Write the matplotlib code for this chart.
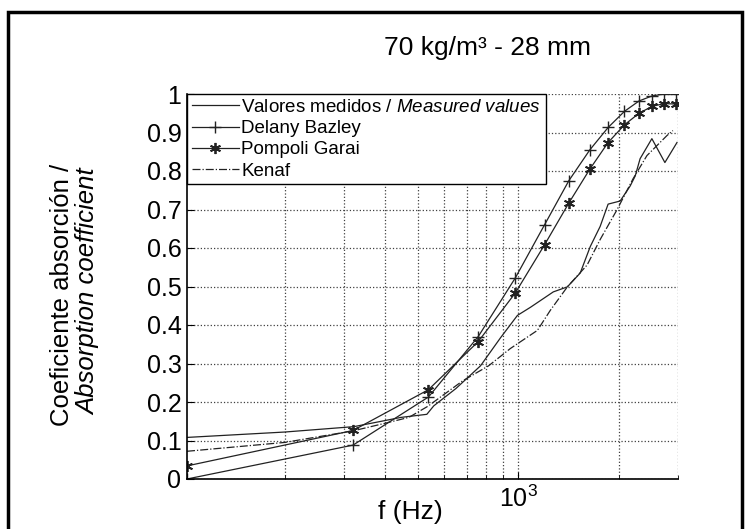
import numpy as np
import matplotlib
matplotlib.use("Agg")
import matplotlib.pyplot as plt
from matplotlib.patches import Rectangle

plt.rcParams['font.family'] = ['Liberation Sans', 'DejaVu Sans']
plt.rcParams['mathtext.fontset'] = 'custom'
plt.rcParams['mathtext.rm'] = 'Liberation Sans'
plt.rcParams['mathtext.it'] = 'Liberation Sans:italic'

# frequencies (Hz) and absorption coefficients
f_meas = [102, 200, 322, 400, 445, 532, 558, 650, 770, 884, 993, 1086, 1271,
          1400, 1530, 1640, 1755, 1854, 2014, 2158, 2234, 2311, 2506, 2741, 2979]
a_meas = [0.108, 0.122, 0.136, 0.152, 0.160, 0.168, 0.190, 0.235, 0.294, 0.367,
          0.425, 0.446, 0.486, 0.499, 0.535, 0.604, 0.656, 0.714, 0.722, 0.761,
          0.787, 0.832, 0.884, 0.822, 0.874]

f_model = [102, 320, 538, 758, 978, 1198, 1415, 1635, 1854, 2075, 2295, 2510, 2730, 2950]
a_delany = [0.0, 0.088, 0.213, 0.370, 0.522, 0.661, 0.775, 0.855, 0.913, 0.955,
            0.982, 0.995, 1.0, 1.0]
a_pompoli = [0.034, 0.126, 0.232, 0.357, 0.483, 0.609, 0.717, 0.805, 0.874, 0.920,
             0.950, 0.968, 0.975, 0.974]

f_kenaf = [102, 200, 320, 400, 470, 536, 681, 814, 946, 1139, 1245, 1400, 1605,
           1755, 1973, 2202, 2422, 2780, 2897]
a_kenaf = [0.072, 0.095, 0.125, 0.145, 0.160, 0.189, 0.255, 0.294, 0.339, 0.386,
           0.438, 0.499, 0.556, 0.622, 0.700, 0.780, 0.840, 0.892, 0.905]

labels = ["Valores medidos / $\\it{Measured\\ values}$", "Delany Bazley",
          "Pompoli Garai", "Kenaf"]

fig = plt.figure(figsize=(7.45, 5.29), dpi=100)
ax = fig.add_axes([187/745, 1-479/529, (678-187)/745, (479-94)/529])

lc = '#222222'
ax.plot(f_meas, a_meas, '-', color=lc, lw=0.9, label=labels[0])
ax.plot(f_model, a_delany, '-', color=lc, lw=0.9, marker='+', ms=9, mew=1.0, label=labels[1])
ax.plot(f_model, a_pompoli, '-', color=lc, lw=0.9, marker=(6, 2, 0), ms=8, mew=1.3, label=labels[2])
ax.plot(f_kenaf, a_kenaf, '-.', color=lc, lw=0.9, label=labels[3])

ax.set_xscale('log')
ax.set_xlim(102, 3000)
ax.set_ylim(0, 1)
ax.set_yticks(np.arange(0, 1.01, 0.1))
ax.set_yticklabels(['0', '0.1', '0.2', '0.3', '0.4', '0.5', '0.6', '0.7', '0.8', '0.9', '1'])
ax.set_xticks([1000])
ax.set_xticklabels([r'$\mathregular{10^3}$'])
ax.set_xticks([200, 300, 400, 500, 600, 700, 800, 900, 2000, 3000], minor=True)
ax.xaxis.set_minor_formatter(matplotlib.ticker.NullFormatter())
ax.tick_params(direction='in', labelsize=18, length=5, width=0.8)
ax.tick_params(which='minor', direction='in', length=3, width=0.6)
ax.tick_params(axis='x', pad=5)
ax.tick_params(axis='y', pad=4)

ax.grid(True, which='both', axis='x', ls=':', color='0.25', lw=0.9)
ax.grid(True, which='major', axis='y', ls=':', color='0.25', lw=0.9)
ax.spines['top'].set_visible(False)
ax.spines['right'].set_visible(False)
ax.spines['left'].set_linewidth(1.2)
ax.spines['bottom'].set_linewidth(1.2)

leg = ax.legend(loc='upper left', bbox_to_anchor=(0, 1), borderaxespad=0, fontsize=13.5,
                fancybox=False, framealpha=1, edgecolor='black', handlelength=2.5,
                handletextpad=0.15, labelspacing=0.22, borderpad=0.25)
leg.get_frame().set_linewidth(1.0)
leg.set_zorder(5)

fig.text(488/745, 1-48/529, "70 kg/m³ - 28 mm", ha='center', va='center', fontsize=19)
fig.text(410/745, 1-512/529, "f (Hz)", ha='center', va='center', fontsize=19)
fig.text(62/745, 1-295/529, "Coeficiente absorción /", rotation=90, ha='center',
         va='center', fontsize=18.5)
fig.text(88/745, 1-292/529, "Absorption coefficient", rotation=90, ha='center',
         va='center', fontsize=18.5, style='italic')

fig.patches.append(Rectangle((8/745, -0.1), (742-8)/745, 1.1-12/529, transform=fig.transFigure,
                             fill=False, lw=2.5, ec='black'))

fig.savefig("out.png", dpi=100)
